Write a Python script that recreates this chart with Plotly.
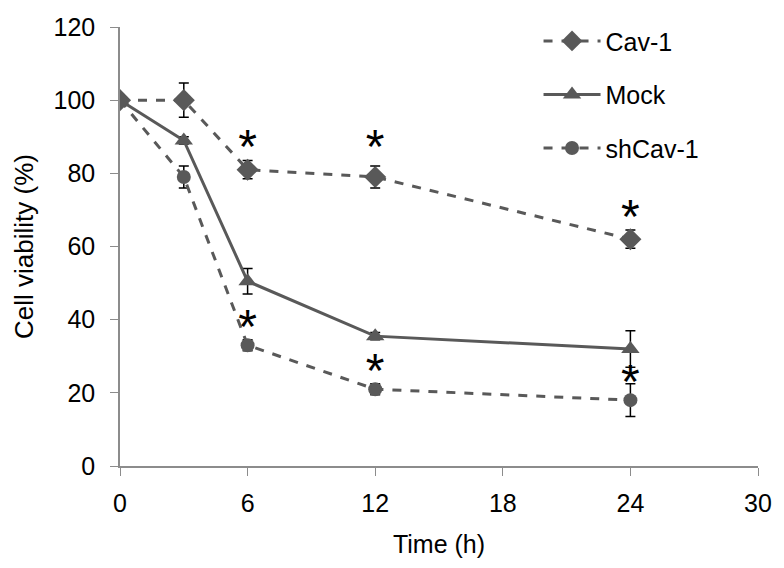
import plotly.graph_objects as go

time_h = [0, 3, 6, 12, 24]
cav1 = [100, 100, 81, 79, 62]
cav1_err = [1, 4.7, 2.5, 3, 2.5]
mock = [100, 89, 50.5, 35.5, 32]
mock_err = [1, 1, 3.5, 1, 5]
shcav1 = [100, 79, 33, 21, 18]
shcav1_err = [1, 3, 1.5, 1.5, 4.5]

star_x = [6, 12, 24, 6, 12, 24]
star_y = [86, 86, 67, 37, 25, 22]

x_ticks = [0, 6, 12, 18, 24, 30]
y_ticks = [0, 20, 40, 60, 80, 100, 120]

gray = "#595959"
axis_gray = "#8c8c8c"
font_family = "Liberation Sans, Arial, sans-serif"

fig = go.Figure()

def add_series(name, y, err, symbol, dash, size, group):
    fig.add_trace(go.Scatter(
        x=time_h, y=y, name=name, mode="lines+markers",
        line=dict(color=gray, width=3, dash=dash),
        marker=dict(symbol=symbol, size=size, color=gray),
        error_y=dict(type="data", array=err, visible=True, color="black",
                     thickness=1.5, width=5),
        legendgroup=group,
    ))

add_series("Cav-1", cav1, cav1_err, "diamond", "dash", 17, "a")
add_series("Mock", mock, mock_err, "triangle-up", "solid", 16, "b")
add_series("shCav-1", shcav1, shcav1_err, "circle", "dash", 14, "c")

fig.add_trace(go.Scatter(
    x=star_x, y=star_y, mode="text", text=["*"] * len(star_x),
    textfont=dict(size=48, color="black", family=font_family),
    showlegend=False, hoverinfo="skip",
))

fig.update_layout(
    width=784, height=568,
    margin=dict(l=120, r=20, t=27, b=102),
    plot_bgcolor="white", paper_bgcolor="white",
    font=dict(family=font_family, size=25, color="black"),
    legend=dict(x=0.656, y=1.02, xanchor="left", yanchor="top",
                font=dict(size=25), tracegroupgap=18, itemwidth=57,
                bgcolor="rgba(0,0,0,0)"),
    xaxis=dict(range=[0, 30], tickvals=x_ticks, showgrid=False,
               showline=True, linecolor=axis_gray, linewidth=1.5,
               ticks="outside", ticklen=8, tickcolor=axis_gray,
               zeroline=False, ticklabelstandoff=6,
               tickfont=dict(size=25),
               title=dict(text="Time (h)", font=dict(size=25), standoff=20)),
    yaxis=dict(range=[0, 120], tickvals=y_ticks, showgrid=False,
               showline=True, linecolor=axis_gray, linewidth=1.5,
               ticks="outside", ticklen=8, tickcolor=axis_gray,
               zeroline=False, ticklabelstandoff=10,
               tickfont=dict(size=25),
               title=dict(text="Cell viability (%)", font=dict(size=26), standoff=12)),
)

fig.write_html("out.html")
